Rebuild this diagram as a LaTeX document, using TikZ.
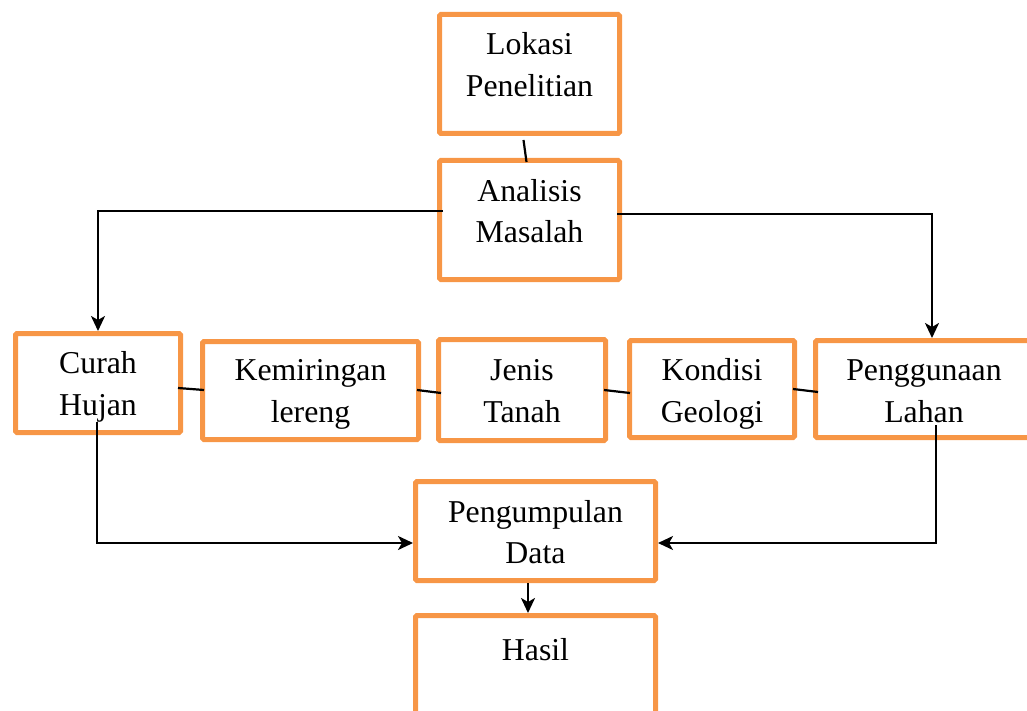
\documentclass[tikz,border=0pt]{standalone}
\usepackage{fontspec}
\setmainfont{Liberation Serif}
\usetikzlibrary{arrows.meta,calc}
\definecolor{boxorange}{HTML}{F79646}
\begin{document}
\begin{tikzpicture}[x=1pt,y=-1pt,
  box/.style 2 args={draw=boxorange,line width=5pt,rounded corners=1.5pt,
    minimum width=#1,minimum height=#2,inner sep=0pt},
  txt/.style={anchor=base,inner sep=0pt,font=\fontsize{31.8}{40}\selectfont},
  conn/.style={draw=black,line width=2.2pt},
  arr/.style={conn,-{Stealth[length=15pt,width=14pt,inset=4pt]}}]
\useasboundingbox (0,0) rectangle (1027,711);
\clip (0,0) rectangle (1027,711);
% boxes
\node[box={180}{119}] (lok) at (529.5,74) {};
\node[box={180}{119}] (ana) at (529.5,220) {};
\node[box={165}{99}]  (cur) at (98,383) {};
\node[box={216}{98}]  (kem) at (310.5,390.5) {};
\node[box={167}{101}] (jen) at (522,390) {};
\node[box={165}{97}]  (kon) at (712,389) {};
\node[box={217}{97}]  (pen) at (924,389) {};
\node[box={240}{99}]  (pgd) at (535.5,531) {};
\node[box={240}{99}]  (has) at (535.5,665) {};
% texts
\node[txt] (lokA) at (529.5,55) {Lokasi};
\node[txt] (lokB) at (529.5,97) {Penelitian};
\node[txt] (anaA) at (529.5,202) {Analisis};
\node[txt] (anaB) at (529.5,243) {Masalah};
\node[txt] (curA) at (98,373) {Curah};
\node[txt] (curB) at (98,415) {Hujan};
\node[txt] (kemA) at (310.5,380) {Kemiringan};
\node[txt] (kemB) at (310.5,422) {lereng};
\node[txt] (jenA) at (522,380) {Jenis};
\node[txt] (jenB) at (522,422) {Tanah};
\node[txt] (konA) at (712,380) {Kondisi};
\node[txt] (konB) at (712,422) {Geologi};
\node[txt] (penA) at (924,380) {Penggunaan};
\node[txt] (penB) at (924,422) {Lahan};
\node[txt] (pgdA) at (535.5,522) {Pengumpulan};
\node[txt] (pgdB) at (535.5,563) {Data};
\node[txt] (hasA) at (535.5,660) {Hasil};
% connectors
\draw[conn] ($(lok.south)+(-6,4)$) -- ($(ana.north)+(-3,4)$);
\draw[arr] ($(ana.west)+(6,-9)$) -| (cur.north);
\draw[arr] ($(ana.east)+(-5,-6)$) -| ($(pen.north)+(8,0)$);
\draw[conn] ($(cur.east)+(-5,5)$) -- ($(kem.west)+(4,-0.5)$);
\draw[conn] ($(kem.east)+(-4,-0.5)$) -- ($(jen.west)+(5,3)$);
\draw[conn] ($(jen.east)+(-4,0)$) -- ($(kon.west)+(3,4)$);
\draw[conn] ($(kon.east)+(-4,0)$) -- ($(pen.west)+(5,3)$);
\draw[arr] ($(cur.south)+(-1,-13)$) |- ($(pgd.west)+(0,12)$);
\draw[arr] ($(pen.south)+(12,-15)$) |- ($(pgd.east)+(0,12)$);
\draw[arr] ($(pgd.south)+(-7.5,0)$) -- ($(has.north)+(-7.5,0)$);
\end{tikzpicture}
\end{document}
